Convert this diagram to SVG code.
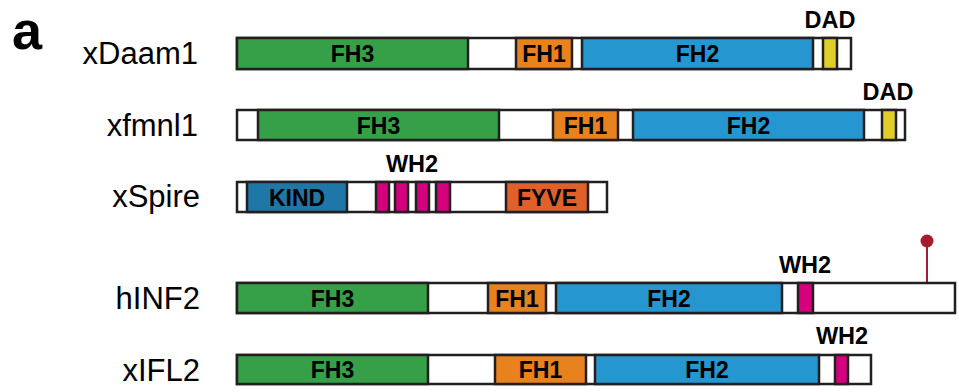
<svg xmlns="http://www.w3.org/2000/svg" width="959" height="392" viewBox="0 0 959 392">
<style>
.bar{fill:#fff;stroke:#231f20;stroke-width:2.5}
.d{stroke:#231f20;stroke-width:2.5}
.fh3{fill:#35a047}.fh1{fill:#e8821e}.fh2{fill:#2596cf}.dad{fill:#e0cf2a}.wh2{fill:#d4007d}.kind{fill:#1f77a8}.fyve{fill:#e0602a}
.name{font-family:"Liberation Sans",Arial,sans-serif;font-size:31px;fill:#000;text-anchor:end}
.dl{font-family:"Liberation Sans",Arial,sans-serif;font-size:23px;font-weight:bold;fill:#000;text-anchor:middle}
.ol{font-family:"Liberation Sans",Arial,sans-serif;font-size:23.500px;font-weight:bold;fill:#000;text-anchor:middle}
</style>
<rect width="959" height="392" fill="#fff"/>
<text x="12" y="49" font-family="Liberation Sans,Arial,sans-serif" font-size="54" font-weight="bold" fill="#000">a</text>
<g id="xDaam1">
<text class="name" x="198" y="64">xDaam1</text>
<rect class="bar" x="237" y="38" width="614" height="31"/>
<rect class="d fh3" x="237" y="38" width="231" height="31"/>
<rect class="d fh1" x="516" y="38" width="56" height="31"/>
<rect class="d fh2" x="582" y="38" width="231" height="31"/>
<rect class="d dad" x="823" y="38" width="14" height="31"/>
<text class="dl" x="352.500" y="62">FH3</text>
<text class="dl" x="544" y="62">FH1</text>
<text class="dl" x="697.500" y="62">FH2</text>
<text class="ol" x="830" y="28">DAD</text>
</g>
<g id="xfmnl1">
<text class="name" x="198" y="136">xfmnl1</text>
<rect class="bar" x="237" y="110" width="668" height="30"/>
<rect class="d fh3" x="258" y="110" width="241" height="30"/>
<rect class="d fh1" x="553" y="110" width="65" height="30"/>
<rect class="d fh2" x="633" y="110" width="231" height="30"/>
<rect class="d dad" x="882" y="110" width="14" height="30"/>
<text class="dl" x="378.500" y="133.500">FH3</text>
<text class="dl" x="585.500" y="133.500">FH1</text>
<text class="dl" x="748.500" y="133.500">FH2</text>
<text class="ol" x="888" y="100">DAD</text>
</g>
<g id="xSpire">
<text class="name" x="200" y="207">xSpire</text>
<rect class="bar" x="237" y="182" width="370" height="30"/>
<rect class="d kind" x="247" y="182" width="100" height="30"/>
<rect class="d wh2" x="376" y="182" width="13" height="30"/>
<rect class="d wh2" x="395" y="182" width="13" height="30"/>
<rect class="d wh2" x="416" y="182" width="13" height="30"/>
<rect class="d wh2" x="436" y="182" width="14" height="30"/>
<rect class="d fyve" x="506" y="182" width="82" height="30"/>
<text class="dl" x="297" y="205.500">KIND</text>
<text class="dl" x="547" y="205.500">FYVE</text>
<text class="ol" x="412" y="172">WH2</text>
</g>
<g id="hINF2">
<text class="name" x="200" y="309">hINF2</text>
<line x1="927" y1="245" x2="927" y2="283" stroke="#a51d2d" stroke-width="2"/>
<circle cx="927" cy="241" r="6.500" fill="#a51d2d"/>
<rect class="bar" x="237" y="283" width="718" height="30"/>
<rect class="d fh3" x="237" y="283" width="191" height="30"/>
<rect class="d fh1" x="488" y="283" width="58" height="30"/>
<rect class="d fh2" x="556" y="283" width="226" height="30"/>
<rect class="d wh2" x="798" y="283" width="15" height="30"/>
<text class="dl" x="332.500" y="306.500">FH3</text>
<text class="dl" x="517" y="306.500">FH1</text>
<text class="dl" x="669" y="306.500">FH2</text>
<text class="ol" x="805" y="273">WH2</text>
</g>
<g id="xIFL2">
<text class="name" x="200" y="381">xIFL2</text>
<rect class="bar" x="237" y="355" width="634" height="29"/>
<rect class="d fh3" x="237" y="355" width="191" height="29"/>
<rect class="d fh1" x="495" y="355" width="91" height="29"/>
<rect class="d fh2" x="595" y="355" width="224" height="29"/>
<rect class="d wh2" x="835" y="355" width="13" height="29"/>
<text class="dl" x="332.500" y="378">FH3</text>
<text class="dl" x="540.500" y="378">FH1</text>
<text class="dl" x="707" y="378">FH2</text>
<text class="ol" x="842" y="344">WH2</text>
</g>
<g id="connectors"/>
</svg>
